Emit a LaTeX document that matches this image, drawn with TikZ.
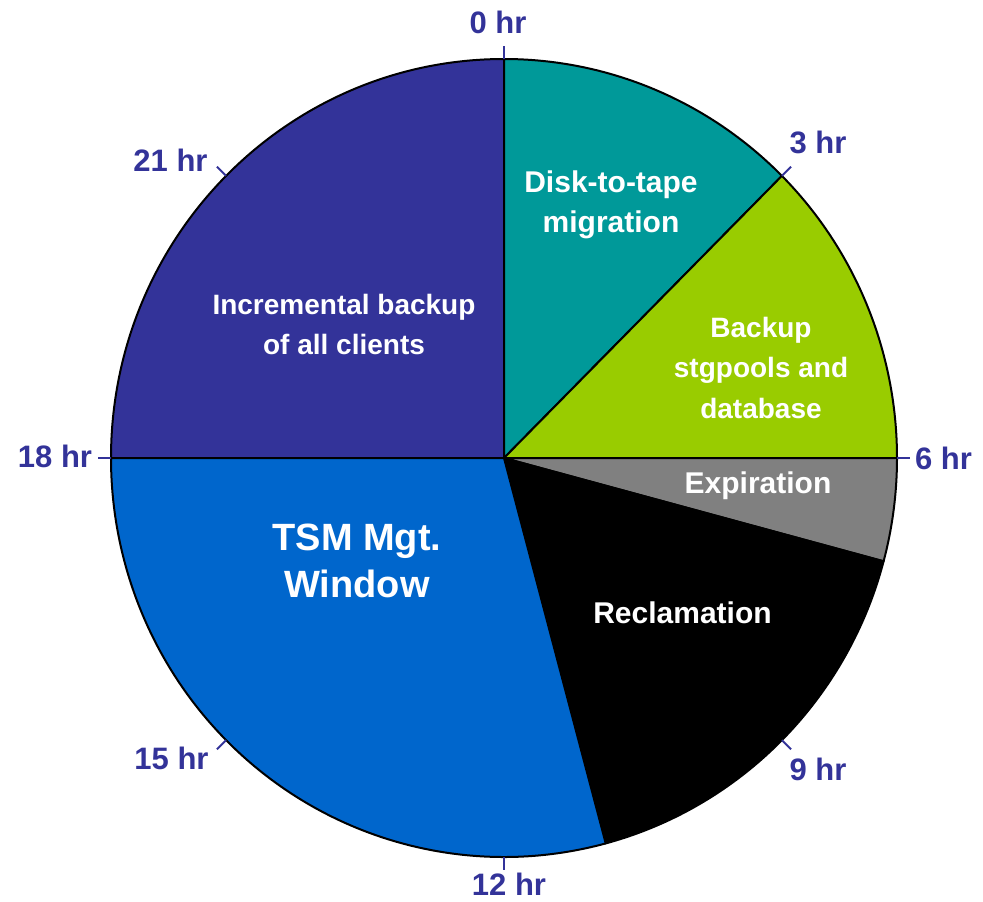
\documentclass[tikz,border=0pt]{standalone}
\usepackage{fontspec}
\setmainfont{Liberation Sans}
\usetikzlibrary{calc}
\definecolor{tsmteal}{HTML}{009999}
\definecolor{tsmgreen}{HTML}{99CC00}
\definecolor{tsmgray}{HTML}{808080}
\definecolor{tsmblue}{HTML}{0066CC}
\definecolor{tsmpurple}{HTML}{333399}
\begin{document}
\begin{tikzpicture}[x=1pt,y=1pt,
  slice/.style={draw=black,line width=2pt,line join=round},
  hourlbl/.style={text=tsmpurple,font=\fontsize{31}{37}\selectfont\bfseries,anchor=base,inner sep=0pt},
  slicelbl/.style={text=white,align=center,inner sep=0pt},
  tickline/.style={draw=tsmpurple,line width=2pt}]
\useasboundingbox (0,0) rectangle (983,-902);
\coordinate (C) at (504,-458);
% slices (hour h -> angle 90-15h)
\path[slice,fill=tsmpurple] (C) -- ($(C)+(180:393 and 399)$) arc[start angle=180,end angle=90,x radius=393,y radius=399] -- cycle;
\path[slice,fill=tsmteal] (C) -- ($(C)+(90:393 and 399)$) arc[start angle=90,end angle=45,x radius=393,y radius=399] -- cycle;
\path[slice,fill=tsmgreen] (C) -- ($(C)+(45:393 and 399)$) arc[start angle=45,end angle=0,x radius=393,y radius=399] -- cycle;
\path[slice,fill=tsmgray] (C) -- ($(C)+(0:393 and 399)$) arc[start angle=0,end angle=-15,x radius=393,y radius=399] -- cycle;
\path[slice,fill=black] (C) -- ($(C)+(-15:393 and 399)$) arc[start angle=-15,end angle=-75,x radius=393,y radius=399] -- cycle;
\path[slice,fill=tsmblue] (C) -- ($(C)+(-75:393 and 399)$) arc[start angle=-75,end angle=-180,x radius=393,y radius=399] -- cycle;
% ticks
\foreach \h in {0,3,...,21}{
  \pgfmathsetmacro{\ang}{90-15*\h}
  \coordinate (ti\h) at ($(C)+(\ang:393 and 399)$);
  \coordinate (to\h) at ($(C)+(\ang:406 and 412)$);
  \draw[tickline] (ti\h) -- (to\h);
}
% hour labels
\node[hourlbl] (h0) at (498,-33) {0 hr};
\node[hourlbl] (h3) at (818,-153) {3 hr};
\node[hourlbl] (h6) at (943.5,-469) {6 hr};
\node[hourlbl] (h9) at (818,-780) {9 hr};
\node[hourlbl] (h12) at (509,-895) {12 hr};
\node[hourlbl] (h15) at (171.5,-769) {15 hr};
\node[hourlbl] (h18) at (55,-467) {18 hr};
\node[hourlbl] (h21) at (170.5,-171) {21 hr};
% slice labels
\node[slicelbl,font=\fontsize{30}{40}\selectfont\bfseries] (disk) at (611,-204.5) {Disk-to-tape\\migration};
\node[slicelbl,font=\fontsize{28}{40}\selectfont\bfseries] (incr) at (344,-324) {Incremental backup\\of all clients};
\node[slicelbl,font=\fontsize{28}{40.5}\selectfont\bfseries] (bkup) at (761,-367.5) {Backup\\stgpools and\\database};
\node[slicelbl,font=\fontsize{38}{47}\selectfont\bfseries] (tsm) at (357,-561) {TSM Mgt.\\Window};
\node[slicelbl,anchor=base,font=\fontsize{30}{36}\selectfont\bfseries] (expi) at (758,-493) {Expiration};
\node[slicelbl,anchor=base,font=\fontsize{30}{36}\selectfont\bfseries] (recl) at (682.5,-623) {Reclamation};
\end{tikzpicture}
\end{document}
